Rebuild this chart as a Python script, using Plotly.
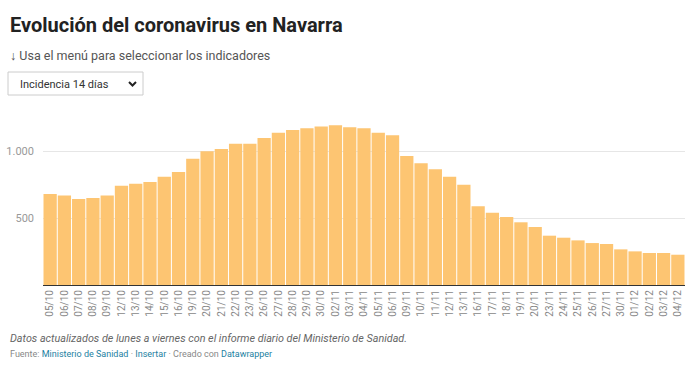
import plotly.graph_objects as go

dates = ["05/10","06/10","07/10","08/10","09/10","12/10","13/10","14/10","15/10","16/10",
         "19/10","20/10","21/10","22/10","23/10","26/10","27/10","28/10","29/10","30/10",
         "02/11","03/11","04/11","05/11","06/11","09/11","10/11","11/11","12/11","13/11",
         "16/11","17/11","18/11","19/11","20/11","23/11","24/11","25/11","26/11","27/11",
         "30/11","01/12","02/12","03/12","04/12"]
incidencia = [679,667,642,649,667,741,756,769,808,843,
              943,998,1015,1055,1055,1097,1137,1157,1169,1182,
              1192,1177,1169,1137,1117,963,908,863,808,749,
              587,540,507,468,433,368,353,333,313,306,
              266,251,239,239,226]
ytick_vals = [500, 1000]

W, H = 700, 365
L, R, T, B = 43, 15, 110, 80
PW, PH = W - L - R, H - T - B

def px(x):
    return (x - L) / PW

def py(y):
    return (H - B - y) / PH

fig = go.Figure()
fig.add_trace(go.Bar(x=dates, y=incidencia, marker=dict(color="#fdc572", line=dict(width=0)),
                     hoverinfo="x+y"))

fig.update_layout(
    width=W, height=H,
    margin=dict(l=L, r=R, t=T, b=B, autoexpand=False),
    paper_bgcolor="white", plot_bgcolor="white",
    separators=",.",
    bargap=0.07,
    showlegend=False,
    font=dict(family="Roboto", color="#333"),
    xaxis=dict(type="category", tickangle=-90, tickfont=dict(size=10, color="#888"),
               showgrid=False, showline=True, linecolor="#333", linewidth=1.2,
               ticks="", fixedrange=True, automargin=False),
    yaxis=dict(range=[0, 1306], tickvals=ytick_vals, tickformat=",d",
               tickfont=dict(size=11, color="#999"), showgrid=True, gridcolor="#e6e6e6",
               gridwidth=1, zeroline=False, ticks="", ticklabelstandoff=8, fixedrange=True,
               automargin=False),
)

ann = []
ann.append(dict(text="<b>Evolución del coronavirus en Navarra</b>", x=px(8), y=py(25),
                xanchor="left", yanchor="middle", showarrow=False,
                font=dict(size=20, color="#222", family="Roboto")))
ann.append(dict(text="↓ Usa el menú para seleccionar los indicadores", x=px(8), y=py(55),
                xanchor="left", yanchor="middle", showarrow=False,
                font=dict(size=12.5, color="#555", family="Roboto")))
ann.append(dict(text="Incidencia 14 días", x=px(18), y=py(84),
                xanchor="left", yanchor="middle", showarrow=False,
                font=dict(size=11, color="#333", family="Roboto")))
ann.append(dict(text="<i>Datos actualizados de lunes a viernes con el informe diario del Ministerio de Sanidad.</i>",
                x=px(8), y=py(338), xanchor="left", yanchor="middle", showarrow=False,
                font=dict(size=10.8, color="#666", family="Roboto")))
ann.append(dict(text="Fuente: <span style='color:#1d81a2'>Ministerio de Sanidad</span> · "
                     "<span style='color:#1d81a2'>Insertar</span> · Creado con "
                     "<span style='color:#1d81a2'>Datawrapper</span>",
                x=px(8), y=py(354), xanchor="left", yanchor="middle", showarrow=False,
                font=dict(size=9, color="#888", family="Roboto")))
for a in ann:
    a["xref"] = "paper"
    a["yref"] = "paper"
fig.update_layout(annotations=ann)

shapes = [
    dict(type="rect", xref="paper", yref="paper", x0=px(8), x1=px(143), y0=py(72), y1=py(95),
         line=dict(color="#cccccc", width=1), fillcolor="white", layer="above"),
    dict(type="path", xref="paper", yref="paper",
         path=f"M {px(129)} {py(82)} L {px(132.5)} {py(85.5)} L {px(136)} {py(82)}",
         line=dict(color="#222", width=2)),
]
fig.update_layout(shapes=shapes)

fig.write_html("out.html", config={"displayModeBar": False},
               post_script="document.body.style.margin='0';document.body.style.padding='0';")
